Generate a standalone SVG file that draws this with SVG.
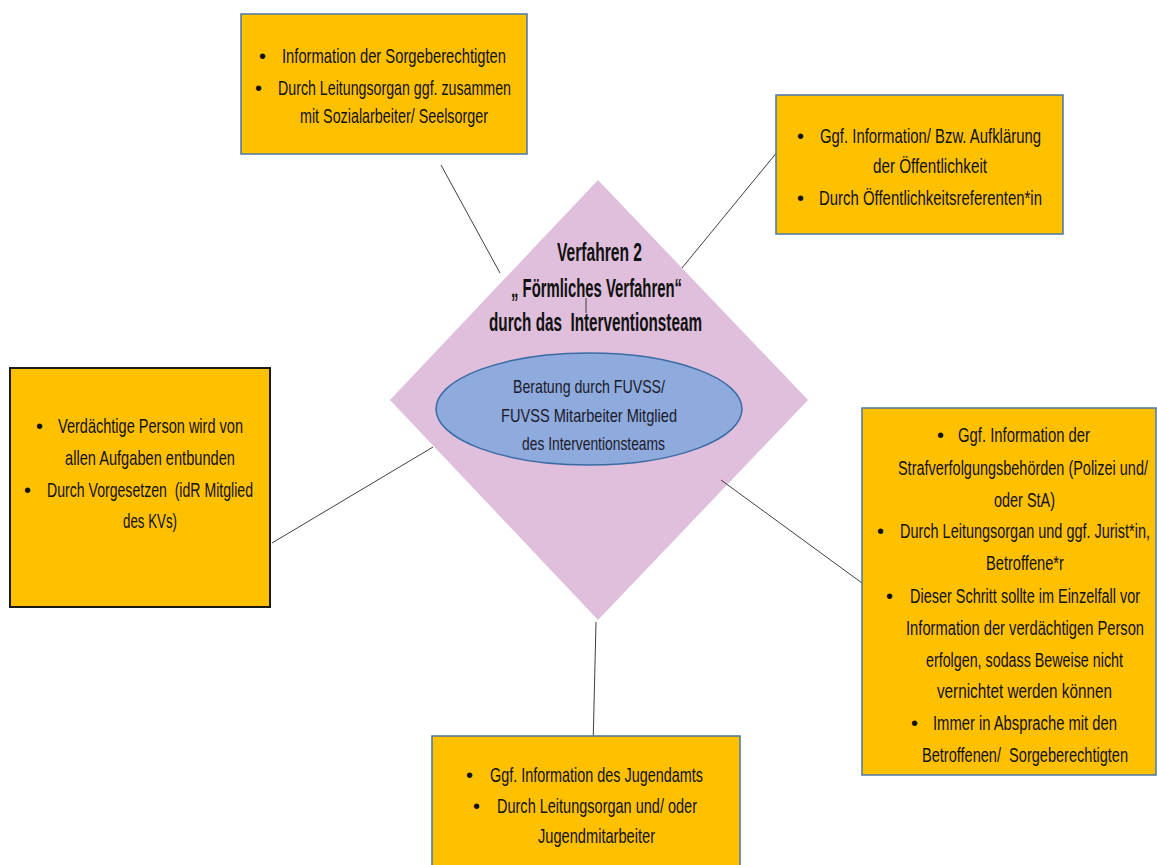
<svg xmlns="http://www.w3.org/2000/svg" width="1157" height="865" viewBox="0 0 1157 865">
<style>
text{white-space:pre}
.box{fill:#FFC000;stroke:#4A77A8;stroke-width:1.5}
.boxd{fill:#FFC000;stroke:#1a1a1a;stroke-width:2}
.t{font-family:"Liberation Sans",Arial,sans-serif;font-size:21px;fill:#111}
.b{font-family:"Liberation Sans",Arial,sans-serif;font-size:20px;fill:#111}
.h{font-family:"Liberation Sans",Arial,sans-serif;font-size:25px;font-weight:bold;fill:#111}
.e{font-family:"Liberation Sans",Arial,sans-serif;font-size:19px;fill:#1a1a2a}
.c{stroke:#404040;stroke-width:1;fill:none}
</style>
<rect width="1157" height="865" fill="#ffffff"/>
<g id="center">
<polygon points="598,180 808,400 598,620 390,400" fill="#DFBFDB"/>
<text class="h" x="557" y="261" textLength="85" lengthAdjust="spacingAndGlyphs">Verfahren 2</text>
<text class="h" x="511" y="297" textLength="171" lengthAdjust="spacingAndGlyphs">„ Förmliches Verfahren“</text>
<text class="h" x="489" y="331" textLength="213" lengthAdjust="spacingAndGlyphs">durch das  Interventionsteam</text>
</g>
<g id="connectors">
<line class="c" x1="441" y1="165" x2="500" y2="273"/>
<line class="c" x1="787" y1="140" x2="682" y2="268"/>
<line class="c" x1="586" y1="298" x2="586" y2="313"/>
<line class="c" x1="272" y1="543" x2="433" y2="447"/>
<line class="c" x1="721" y1="480" x2="862" y2="583"/>
<line class="c" x1="596" y1="622" x2="593" y2="747"/>
</g>
<g id="ellipse">
<ellipse cx="589" cy="409" rx="153" ry="56" fill="#8FAADC" stroke="#3A6BA5" stroke-width="1.5"/>
<text class="e" x="513" y="393" textLength="152" lengthAdjust="spacingAndGlyphs">Beratung durch FUVSS/</text>
<text class="e" x="501" y="422" textLength="176" lengthAdjust="spacingAndGlyphs">FUVSS Mitarbeiter Mitglied</text>
<text class="e" x="522" y="450" textLength="143" lengthAdjust="spacingAndGlyphs">des Interventionsteams</text>
</g>
<g id="box-top">
<rect class="box" x="241" y="14" width="286" height="140"/>
<text class="b" x="259" y="63">•</text>
<text class="t" x="282" y="63" textLength="224" lengthAdjust="spacingAndGlyphs">Information der Sorgeberechtigten</text>
<text class="b" x="255" y="95">•</text>
<text class="t" x="278" y="95" textLength="233" lengthAdjust="spacingAndGlyphs">Durch Leitungsorgan ggf. zusammen</text>
<text class="t" x="300" y="123" textLength="188" lengthAdjust="spacingAndGlyphs">mit Sozialarbeiter/ Seelsorger</text>
</g>
<g id="box-topright">
<rect class="box" x="776" y="95" width="287" height="139"/>
<text class="b" x="797" y="143">•</text>
<text class="t" x="820" y="143" textLength="221" lengthAdjust="spacingAndGlyphs">Ggf. Information/ Bzw. Aufklärung</text>
<text class="t" x="873" y="173" textLength="114" lengthAdjust="spacingAndGlyphs">der Öffentlichkeit</text>
<text class="b" x="797" y="205">•</text>
<text class="t" x="819" y="205" textLength="223" lengthAdjust="spacingAndGlyphs">Durch Öffentlichkeitsreferenten*in</text>
</g>
<g id="box-left">
<rect class="boxd" x="10" y="368" width="260" height="239"/>
<text class="b" x="36" y="433">•</text>
<text class="t" x="58" y="433" textLength="185" lengthAdjust="spacingAndGlyphs">Verdächtige Person wird von</text>
<text class="t" x="65" y="465" textLength="170" lengthAdjust="spacingAndGlyphs">allen Aufgaben entbunden</text>
<text class="b" x="24" y="497">•</text>
<text class="t" x="47" y="497" textLength="206" lengthAdjust="spacingAndGlyphs">Durch Vorgesetzen  (idR Mitglied</text>
<text class="t" x="123" y="528" textLength="54" lengthAdjust="spacingAndGlyphs">des KVs)</text>
</g>
<g id="box-right">
<rect class="box" x="862" y="408" width="294" height="367"/>
<text class="b" x="937" y="442">•</text>
<text class="b" x="877" y="538">•</text>
<text class="b" x="886" y="603">•</text>
<text class="b" x="911" y="730">•</text>
<g transform="translate(862,0) scale(0.7,1)">
<text class="t" x="137.1" y="442" textLength="188.6" lengthAdjust="spacingAndGlyphs">Ggf. Information der</text>
<text class="t" x="51.4" y="475" textLength="357.1" lengthAdjust="spacingAndGlyphs">Strafverfolgungsbehörden (Polizei und/</text>
<text class="t" x="188.6" y="507" textLength="87.1" lengthAdjust="spacingAndGlyphs">oder StA)</text>
<text class="t" x="54.3" y="538" textLength="357.1" lengthAdjust="spacingAndGlyphs">Durch Leitungsorgan und ggf. Jurist*in,</text>
<text class="t" x="177.1" y="570" textLength="111.4" lengthAdjust="spacingAndGlyphs">Betroffene*r</text>
<text class="t" x="68.6" y="603" textLength="328.6" lengthAdjust="spacingAndGlyphs">Dieser Schritt sollte im Einzelfall vor</text>
<text class="t" x="62.9" y="635" textLength="340" lengthAdjust="spacingAndGlyphs">Information der verdächtigen Person</text>
<text class="t" x="91.4" y="667" textLength="281.4" lengthAdjust="spacingAndGlyphs">erfolgen, sodass Beweise nicht</text>
<text class="t" x="107.1" y="698" textLength="250" lengthAdjust="spacingAndGlyphs">vernichtet werden können</text>
<text class="t" x="101.4" y="730" textLength="262.9" lengthAdjust="spacingAndGlyphs">Immer in Absprache mit den</text>
<text class="t" x="85.7" y="762" textLength="294.3" lengthAdjust="spacingAndGlyphs">Betroffenen/  Sorgeberechtigten</text>
</g>
</g>
<g id="box-bottom">
<rect class="box" x="432" y="736" width="308" height="140"/>
<text class="b" x="466" y="782">•</text>
<text class="t" x="490" y="782" textLength="213" lengthAdjust="spacingAndGlyphs">Ggf. Information des Jugendamts</text>
<text class="b" x="473" y="813">•</text>
<text class="t" x="497" y="813" textLength="200" lengthAdjust="spacingAndGlyphs">Durch Leitungsorgan und/ oder</text>
<text class="t" x="538" y="843" textLength="117" lengthAdjust="spacingAndGlyphs">Jugendmitarbeiter</text>
</g>
</svg>
